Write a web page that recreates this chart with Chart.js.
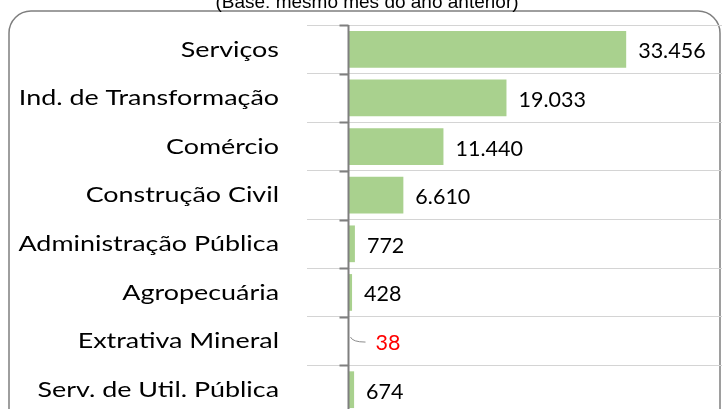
<!DOCTYPE html>
<html>
<head>
<meta charset="utf-8">
<script src="https://cdn.jsdelivr.net/npm/chart.js@4/dist/chart.umd.min.js"></script>
<style>
  html, body { margin: 0; padding: 0; background: #fff; overflow: hidden; }
  #wrap { position: relative; width: 722px; height: 409px; overflow: hidden; }
  #chart { position: absolute; left: 0; top: 0; }
</style>
</head>
<body>
<div id="wrap"><canvas id="chart" width="722" height="430"></canvas></div>
<script>
const categories = [
  "Serviços",
  "Ind. de Transformação",
  "Comércio",
  "Construção Civil",
  "Administração Pública",
  "Agropecuária",
  "Extrativa Mineral",
  "Serv. de Util. Pública",
];
const saldo = [33456, 19033, 11440, 6610, 772, 428, -38, 674];
const titleText = "(Base: mesmo mês do ano anterior)";

const LABEL_FONT = "21px Lato, 'Open Sans', sans-serif";
const LABEL_STRETCH = 1.28;
const VALUE_FONT = "21.5px Lato, 'Open Sans', sans-serif";

function formatAmount(value) {
  return Math.abs(value).toLocaleString("pt-BR");
}

const framePlugin = {
  id: "frame",
  beforeDraw(chart) {
    const ctx = chart.ctx;
    ctx.save();
    ctx.strokeStyle = "#7f7f7f";
    ctx.lineWidth = 1.5;
    ctx.beginPath();
    ctx.roundRect(9, 11, 711, 460, 22);
    ctx.stroke();

    ctx.fillStyle = "#000";
    ctx.font = "19px 'Liberation Sans', Arial, sans-serif";
    ctx.textAlign = "center";
    ctx.textBaseline = "alphabetic";
    ctx.fillText(titleText, 367, 8);
    ctx.restore();
  },
  afterDatasetsDraw(chart) {
    const ctx = chart.ctx;
    const xScale = chart.scales.x;
    const yScale = chart.scales.y;
    const area = chart.chartArea;
    const x0 = xScale.getPixelForValue(0);
    const half = (yScale.getPixelForValue(1) - yScale.getPixelForValue(0)) / 2;

    ctx.save();
    // eixo no zero com marcas nas divisões
    ctx.strokeStyle = "#7f7f7f";
    ctx.lineWidth = 2;
    ctx.beginPath();
    ctx.moveTo(x0, area.top);
    ctx.lineTo(x0, area.bottom);
    for (let i = 0; i <= categories.length; i += 1) {
      const y = Math.round(yScale.getPixelForValue(i) - half) + 0.5;
      ctx.moveTo(x0, y);
      ctx.lineTo(x0 - 9, y);
    }
    ctx.stroke();

    // rótulos das categorias (levemente esticados, como no original)
    ctx.fillStyle = "#000";
    ctx.font = LABEL_FONT;
    ctx.textAlign = "right";
    ctx.textBaseline = "middle";
    categories.forEach((name, idx) => {
      ctx.save();
      ctx.translate(area.left - 28, yScale.getPixelForValue(idx) + 0.5);
      ctx.scale(LABEL_STRETCH, 1);
      ctx.fillText(name, 0, 0);
      ctx.restore();
    });

    // rótulos de valor
    ctx.font = VALUE_FONT;
    ctx.textAlign = "left";
    const meta = chart.getDatasetMeta(0);
    meta.data.forEach((bar, idx) => {
      const value = saldo[idx];
      const y = yScale.getPixelForValue(idx);
      if (value < 0) {
        ctx.strokeStyle = "#8c8c8c";
        ctx.lineWidth = 1;
        ctx.beginPath();
        ctx.moveTo(x0 + 2, y - 4);
        ctx.quadraticCurveTo(x0 + 4, y + 1, x0 + 17, y + 1);
        ctx.stroke();
        ctx.fillStyle = "#ff0000";
        ctx.fillText(formatAmount(value), x0 + 27, y + 2);
      } else {
        ctx.fillStyle = "#000";
        ctx.fillText(formatAmount(value), bar.x + 12, y + 2);
      }
    });
    ctx.restore();
  },
};

new Chart(document.getElementById("chart"), {
  type: "bar",
  data: {
    labels: categories,
    datasets: [
      {
        data: saldo,
        backgroundColor: "#a9d18e",
        borderWidth: 0,
        barPercentage: 0.755,
        categoryPercentage: 1,
      },
    ],
  },
  options: {
    indexAxis: "y",
    responsive: false,
    animation: false,
    layout: { padding: { left: 307, right: 0, top: 25, bottom: 16 } },
    plugins: {
      legend: { display: false },
      tooltip: { enabled: false },
      title: { display: false },
    },
    scales: {
      x: {
        display: false,
        min: -5000,
        max: 45000,
      },
      y: {
        display: true,
        offset: true,
        ticks: { display: false },
        border: { display: false },
        grid: {
          offset: true,
          drawTicks: false,
          color: "#d4d4d4",
          lineWidth: 1,
        },
      },
    },
  },
  plugins: [framePlugin],
});
</script>
</body>
</html>
